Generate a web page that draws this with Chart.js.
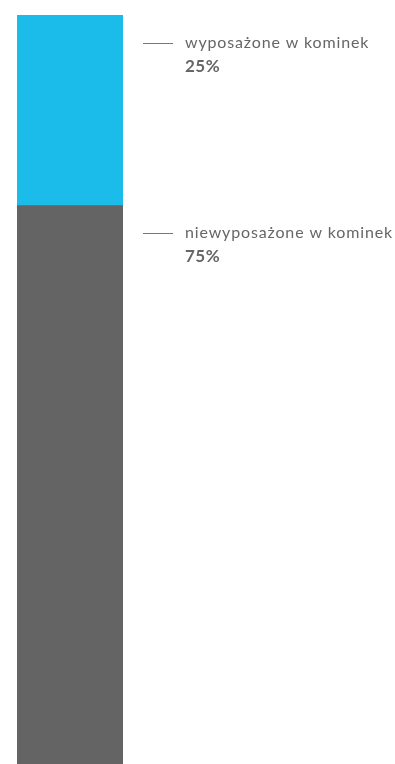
<!DOCTYPE html>
<html>
<head>
<meta charset="utf-8">
<script src="https://cdn.jsdelivr.net/npm/chart.js@4/dist/chart.umd.min.js"></script>
<style>
  html, body { margin: 0; padding: 0; background: #fff; overflow: hidden; }
  #wrap { width: 395px; height: 776px; }
</style>
</head>
<body>
<div id="wrap"><canvas id="fireplace"></canvas></div>
<script>
// share of homes with / without a fireplace
const categories = ['kominek'];
const seriesLabels = ['wyposażone w kominek', 'niewyposażone w kominek'];
const seriesValues = [25, 75];
const seriesColors = ['#1bbce9', '#646464'];

// labels with a short leader line beside each segment
const sideLabels = {
  id: 'sideLabels',
  afterDatasetsDraw(chart) {
    const ctx = chart.ctx;
    ctx.save();
    chart.data.datasets.forEach((ds, i) => {
      const bar = chart.getDatasetMeta(i).data[0];
      const top = Math.min(bar.y, bar.base);
      const ly = Math.round(top + 28) + 0.5;
      ctx.strokeStyle = '#777';
      ctx.lineWidth = 1;
      ctx.beginPath();
      ctx.moveTo(143, ly);
      ctx.lineTo(173, ly);
      ctx.stroke();
      ctx.fillStyle = '#666';
      ctx.textBaseline = 'alphabetic';
      ctx.letterSpacing = '0.85px';
      ctx.font = '16px Lato';
      ctx.fillText(ds.label, 185, top + 33);
      ctx.letterSpacing = '0.5px';
      ctx.font = 'bold 17px Lato';
      ctx.fillText(ds.data[0] + '%', 185, top + 57);
    });
    ctx.restore();
  }
};

const datasets = seriesValues.map((v, i) => ({
  label: seriesLabels[i],
  data: [v],
  backgroundColor: seriesColors[i],
  borderWidth: 0,
  barPercentage: 1,
  categoryPercentage: 1
}));

new Chart(document.getElementById('fireplace'), {
  type: 'bar',
  data: { labels: categories, datasets: datasets },
  options: {
    responsive: true,
    maintainAspectRatio: false,
    animation: false,
    layout: { padding: { left: 17, right: 272, top: 15, bottom: 1 } },
    plugins: { legend: { display: false }, tooltip: { enabled: false } },
    scales: {
      x: { stacked: true, display: false },
      y: { stacked: true, display: false, min: 0, max: 100, reverse: true }
    }
  },
  plugins: [sideLabels]
});
</script>
</body>
</html>
